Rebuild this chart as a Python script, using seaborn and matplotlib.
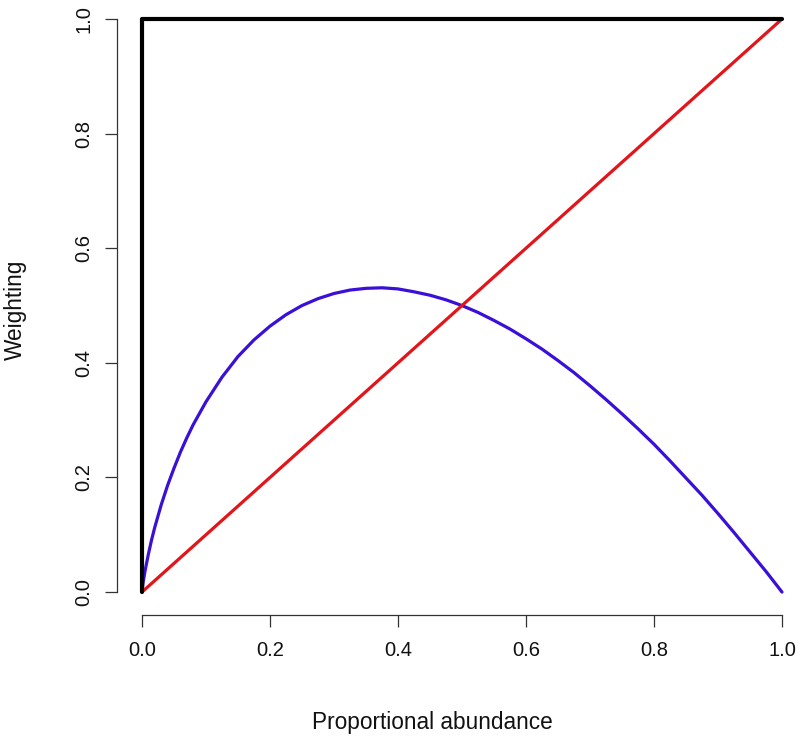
import pandas as pd
import seaborn as sns
import matplotlib.pyplot as plt

# Richness weighting (black)
richness_x = [0.0, 0.0, 1.0]
richness_y = [0.0, 1.0, 1.0]

# Simpson-like weighting (red)
simpson_x = [0.0, 1.0]
simpson_y = [0.0, 1.0]

# Shannon-like weighting (blue), estimated from the curve
shannon_x = [0.0, 0.002, 0.005, 0.01, 0.015, 0.02, 0.03, 0.04, 0.05, 0.06, 0.07,
             0.08, 0.1, 0.125, 0.15, 0.175, 0.2, 0.225, 0.25, 0.275, 0.3, 0.325,
             0.35, 0.375, 0.4, 0.425, 0.45, 0.475, 0.5, 0.525, 0.55, 0.575, 0.6,
             0.625, 0.65, 0.675, 0.7, 0.725, 0.75, 0.775, 0.8, 0.825, 0.85,
             0.875, 0.9, 0.925, 0.95, 0.975, 1.0]
shannon_y = [0.0, 0.018, 0.038, 0.066, 0.091, 0.113, 0.152, 0.186, 0.216, 0.244,
             0.269, 0.292, 0.332, 0.375, 0.411, 0.440, 0.464, 0.484, 0.500, 0.512,
             0.521, 0.527, 0.530, 0.531, 0.529, 0.524, 0.518, 0.510, 0.500, 0.488,
             0.474, 0.459, 0.442, 0.424, 0.404, 0.383, 0.360, 0.336, 0.311, 0.285,
             0.258, 0.229, 0.199, 0.169, 0.137, 0.104, 0.070, 0.036, 0.0]

ticks = [0.0, 0.2, 0.4, 0.6, 0.8, 1.0]
tick_labels = ["0.0", "0.2", "0.4", "0.6", "0.8", "1.0"]

sns.set_style("white")
plt.rcParams["font.family"] = ["Liberation Sans", "DejaVu Sans"]

W, H = 800, 741
fig = plt.figure(figsize=(W / 100, H / 100), dpi=100)

# axes placed in pixel terms: left spine x=117, bottom spine y=615
left_px, right_px = 117, 800
bottom_px, top_px = 615, -4
ax = fig.add_axes([left_px / W, (H - bottom_px) / H,
                   (right_px - left_px) / W, (bottom_px - top_px) / H])

df_r = pd.DataFrame({"x": richness_x, "y": richness_y})
df_s = pd.DataFrame({"x": simpson_x, "y": simpson_y})
df_h = pd.DataFrame({"x": shannon_x, "y": shannon_y})

sns.lineplot(data=df_h, x="x", y="y", sort=False, estimator=None,
             color="#3a0fd8", linewidth=2.3, ax=ax)
sns.lineplot(data=df_s, x="x", y="y", sort=False, estimator=None,
             color="#e3141a", linewidth=2.3, ax=ax)
sns.lineplot(data=df_r, x="x", y="y", sort=False, estimator=None,
             color="black", linewidth=3.0, ax=ax)

ax.set_xlim(-0.039, 1.0 + (right_px - 782) / 640)
ax.set_ylim(-0.040, 1.0 + 23 / 573)

for s in ["top", "right"]:
    ax.spines[s].set_visible(False)
ax.spines["left"].set_bounds(0, 1)
ax.spines["bottom"].set_bounds(0, 1)
for s in ["left", "bottom"]:
    ax.spines[s].set_color("#333333")
    ax.spines[s].set_linewidth(0.9)

ax.set_xticks(ticks)
ax.set_xticklabels(tick_labels)
ax.set_yticks(ticks)
ax.set_yticklabels(tick_labels, rotation=90, va="center")
ax.tick_params(axis="both", direction="out", length=8.5, width=0.9,
               color="#333333", labelsize=14.5, labelcolor="#111111",
               bottom=True, left=True)
ax.tick_params(axis="x", pad=10)
ax.tick_params(axis="y", pad=8.5)
ax.set_xlabel("")
ax.set_ylabel("")

fig.text(432 / W, 1 - 723 / H, "Proportional abundance", ha="center",
         va="center", fontsize=16.3, color="#111111")
fig.text(15 / W, 1 - 310 / H, "Weighting", ha="center", va="center",
         rotation=90, fontsize=16.3, color="#111111")

fig.savefig("out.png", dpi=100)
